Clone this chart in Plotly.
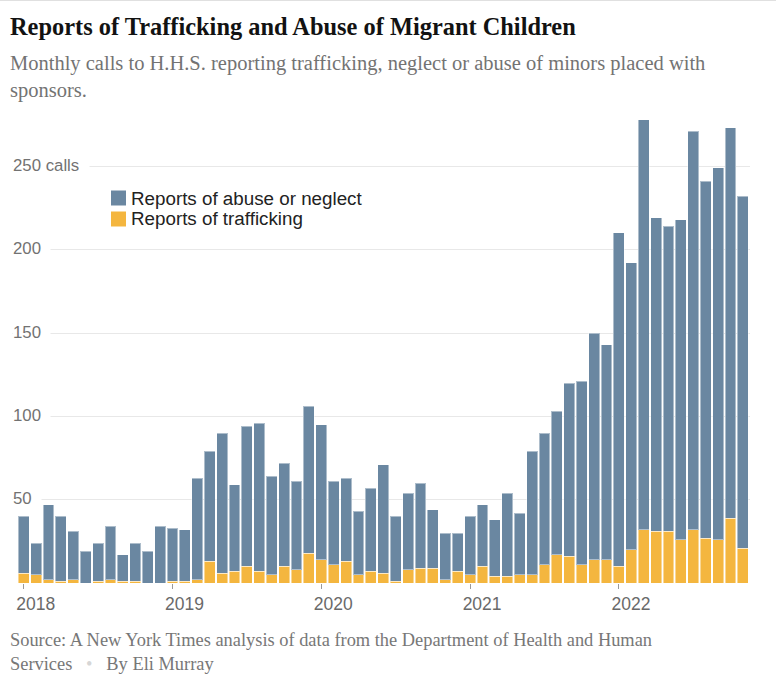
import plotly.graph_objects as go
import pandas as pd

# ---- data ----
months = [d.strftime("%Y-%m") for d in pd.date_range("2018-01-01", "2022-11-01", freq="MS")]
trafficking = [6, 5, 2, 1, 2, 0, 1, 2, 1, 1, 0, 0,
               1, 1, 2, 13, 6, 7, 10, 7, 5, 10, 8, 18,
               14, 11, 13, 5, 7, 6, 1, 8, 9, 9, 2, 7,
               5, 10, 4, 4, 5, 5, 11, 17, 16, 11, 14, 14,
               10, 20, 32, 31, 31, 26, 32, 27, 26, 39, 21]
abuse = [34, 19, 45, 39, 29, 19, 23, 32, 16, 23, 19, 34,
         32, 31, 61, 66, 84, 52, 84, 89, 59, 62, 53, 88,
         81, 50, 50, 38, 50, 65, 39, 46, 51, 35, 28, 23,
         35, 37, 34, 50, 37, 74, 79, 86, 104, 110, 136, 129,
         200, 172, 246, 188, 183, 192, 239, 214, 223, 234, 211]
year_labels = ["2018", "2019", "2020", "2021", "2022"]
y_ticks = [50, 100, 150, 200, 250]
y_tick_text = ["50", "100", "150", "200", "250 calls"]
series_names = ["Reports of abuse or neglect", "Reports of trafficking"]

BLUE = "#6a87a1"
ORANGE = "#f4b63f"

x = list(range(len(months)))
year_pos = [months.index(y + "-01") for y in year_labels]

fig = go.Figure()
fig.add_trace(go.Bar(x=x, y=trafficking, name=series_names[1],
                     marker=dict(color=ORANGE, line=dict(color="rgba(255,255,255,0.45)", width=1)),
                     customdata=months, hovertemplate="%{customdata}: %{y}<extra></extra>"))
fig.add_trace(go.Bar(x=x, y=abuse, name=series_names[0],
                     marker=dict(color=BLUE, line=dict(color="rgba(255,255,255,0.45)", width=1)),
                     customdata=months, hovertemplate="%{customdata}: %{y}<extra></extra>"))

L, R, T, B = 12, 26, 110, 96
W, H = 776, 679
pw, ph = W - L - R, H - T - B
px_per_month = 12.4
x0 = -(23.7 - L) / px_per_month
x1 = x0 + pw / px_per_month
px_per_unit = 1.6667

def py(p):
    return (H - B - p) / ph

def pxx(p):
    return (p - L) / pw

annotations = []
shapes = []
for v, t in zip(y_ticks, y_tick_text):
    annotations.append(dict(x=0, xref="paper", y=v, yref="y", xanchor="left", yanchor="middle",
                            text=t + "\u00a0\u00a0", showarrow=False, bgcolor="white", borderpad=0,
                            yshift=1, font=dict(family="Liberation Sans", size=16.8, color="#727272")))

annotations.append(dict(x=pxx(8), xref="paper", y=py(26), yref="paper", xanchor="left", yanchor="middle",
                        text="<b>Reports of Trafficking and Abuse of Migrant Children</b>", showarrow=False,
                        font=dict(family="Liberation Serif", size=24.4, color="#121212")))
annotations.append(dict(x=pxx(8), xref="paper", y=py(77), yref="paper", xanchor="left", yanchor="middle",
                        align="left",
                        text="Monthly calls to H.H.S. reporting trafficking, neglect or abuse of minors placed with<br>sponsors.",
                        showarrow=False,
                        font=dict(family="Liberation Serif", size=20.5, color="#737373")))
annotations.append(dict(x=pxx(8), xref="paper", y=py(652), yref="paper", xanchor="left", yanchor="middle",
                        align="left",
                        text="Source: A New York Times analysis of data from the Department of Health and Human<br>Services\u00a0\u00a0\u00a0<span style='color:#d6d6d6'>•</span>\u00a0\u00a0\u00a0By Eli Murray",
                        showarrow=False,
                        font=dict(family="Liberation Serif", size=18.4, color="#777777")))

# legend (custom: squares + labels)
legend_rows = [(series_names[0], BLUE, 198), (series_names[1], ORANGE, 219)]
for name, col, yc in legend_rows:
    shapes.append(dict(type="rect", xref="paper", yref="paper",
                       x0=pxx(111), x1=pxx(126), y0=py(yc + 7.5), y1=py(yc - 7.5),
                       fillcolor=col, line=dict(width=0)))
    annotations.append(dict(x=pxx(129), xref="paper", y=py(yc), yref="paper", xanchor="left",
                            yanchor="middle", text=name, showarrow=False,
                            font=dict(family="Liberation Sans", size=18.8, color="#222222")))

shapes.append(dict(type="line", xref="paper", yref="paper", x0=pxx(0), x1=pxx(W), y0=py(0.5), y1=py(0.5),
                   line=dict(color="#e0e0e0", width=1)))

fig.update_layout(
    width=W, height=H,
    margin=dict(l=L, r=R, t=T, b=B, pad=0),
    paper_bgcolor="white", plot_bgcolor="white",
    barmode="stack", bargap=0.12,
    showlegend=False,
    xaxis=dict(range=[x0, x1], tickmode="array", tickvals=year_pos, ticktext=year_labels,
               ticks="outside", ticklen=5, tickcolor="#999999", tickwidth=1,
               showgrid=False, zeroline=False, showline=False, ticklabelshift=12,
               tickfont=dict(family="Liberation Sans", size=17.5, color="#6a6a6a")),
    yaxis=dict(range=[0, ph / px_per_unit], tickmode="array", tickvals=y_ticks, showticklabels=False,
               showgrid=True, gridcolor="#e8e8e8", gridwidth=1, zeroline=False, showline=False),
    annotations=annotations,
    shapes=shapes,
)

fig.write_html("out.html", config={"displayModeBar": False},
               post_script="document.body.style.margin='0';document.body.style.overflow='hidden';")
